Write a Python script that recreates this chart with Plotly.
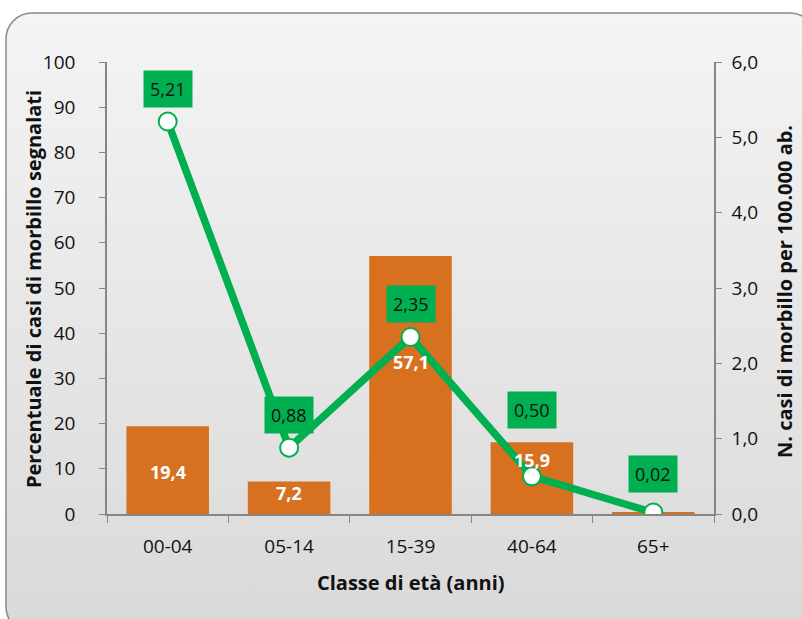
"""Morbillo: percentuale casi e incidenza per classe di età."""
import plotly.graph_objects as go
import base64

# --- data ---
classi = ["00-04", "05-14", "15-39", "40-64", "65+"]
perc_casi = [19.4, 7.2, 57.1, 15.9, 0.4]
incidenza = [5.21, 0.88, 2.35, 0.50, 0.02]

# label offsets (px) - line labels above points, bar labels from bar centre
line_label_shift = [33, 33, 33, 66, 38]
bar_label_shift = [-2, 5, 23, 18, 0]

GREEN = "#00b050"
ORANGE = "#d8711f"
AXIS = "#868686"
FONT = "Open Sans"
INK = "#111111"

# background card: rounded rect with soft vertical gradient
svg = """<svg xmlns='http://www.w3.org/2000/svg' width='800' height='612' viewBox='0 0 800 612' preserveAspectRatio='none'>
<defs><linearGradient id='g' x1='0' y1='0' x2='0' y2='1'>
<stop offset='0' stop-color='#f4f4f4'/><stop offset='1' stop-color='#d9d9d9'/></linearGradient></defs>
<rect x='1' y='1' width='810' height='620' rx='26' ry='26' fill='url(#g)' stroke='#8a8a8a' stroke-width='1.5'/>
</svg>"""
bg_src = "data:image/svg+xml;base64," + base64.b64encode(svg.encode()).decode()

W, H = 802, 619
L, R, T, B = 107, 88, 62, 105
pw, ph = W - L - R, H - T - B


def px_x(x):
    return (x - L) / pw


def px_y(y):
    return (H - B - y) / ph


fig = go.Figure()

fig.add_trace(go.Bar(
    x=classi, y=perc_casi,
    marker=dict(color=ORANGE, line=dict(width=0)),
    width=0.68,
    showlegend=False,
))

fig.add_trace(go.Scatter(
    x=classi, y=incidenza, yaxis="y2",
    mode="lines+markers",
    line=dict(color=GREEN, width=7.5),
    marker=dict(size=18, color="white", line=dict(color=GREEN, width=2)),
    showlegend=False,
))

# bar value labels (white, bold), skipped where the bar is too thin
for c, v, s in zip(classi, perc_casi, bar_label_shift):
    if v < 2:
        continue
    fig.add_annotation(
        x=c, y=v / 2, yref="y", text=f"{v:.1f}".replace(".", ","),
        showarrow=False, yshift=s, yanchor="middle",
        font=dict(family=FONT, size=18, color="white", weight="bold"),
    )

# line value labels in green boxes
for c, v, s in zip(classi, incidenza, line_label_shift):
    fig.add_annotation(
        x=c, y=v, yref="y2", text=f"{v:.2f}".replace(".", ","),
        showarrow=False, yshift=s, yanchor="middle",
        bgcolor=GREEN, borderpad=6,
        font=dict(family=FONT, size=18, color=INK),
    )

title_font = dict(family=FONT, size=20, color=INK, weight="bold")
fig.add_annotation(x=px_x(33), y=px_y(289), xref="paper", yref="paper", textangle=-90,
                   xanchor="center", yanchor="middle",
                   text="Percentuale di casi di morbillo segnalati", showarrow=False,
                   font=title_font)
fig.add_annotation(x=px_x(784), y=px_y(292), xref="paper", yref="paper", textangle=-90,
                   xanchor="center", yanchor="middle",
                   text="N. casi di morbillo per 100.000 ab.", showarrow=False,
                   font=title_font)
fig.add_annotation(x=0.5, y=px_y(582), xref="paper", yref="paper",
                   xanchor="center", yanchor="middle",
                   text="Classe di età (anni)", showarrow=False, font=title_font)

fig.add_layout_image(
    source=bg_src, xref="paper", yref="paper",
    x=px_x(5), y=px_y(12),
    sizex=800 / pw, sizey=612 / ph,
    xanchor="left", yanchor="top", sizing="stretch", layer="below",
)

tick_font = dict(family=FONT, size=19, color=INK)

fig.update_layout(
    width=W, height=H,
    margin=dict(l=L, r=R, t=T, b=B),
    paper_bgcolor="white", plot_bgcolor="rgba(0,0,0,0)",
    separators=",.",
    xaxis=dict(
        type="category", automargin=False,
        showline=True, linecolor=AXIS, linewidth=1.5,
        ticks="outside", tickson="boundaries", ticklen=7, tickcolor=AXIS,
        ticklabelstandoff=14,
        tickfont=tick_font,
    ),
    yaxis=dict(
        range=[0, 100], dtick=10, showgrid=False, zeroline=False, automargin=False,
        showline=True, linecolor=AXIS, linewidth=1.5,
        ticks="outside", ticklen=6, tickcolor=AXIS,
        ticklabelstandoff=20,
        tickfont=tick_font,
    ),
    yaxis2=dict(
        range=[0, 6], dtick=1, tickformat=".1f", overlaying="y", side="right",
        showgrid=False, zeroline=False, automargin=False,
        showline=True, linecolor=AXIS, linewidth=1.5,
        ticks="outside", ticklen=6, tickcolor=AXIS,
        ticklabelstandoff=6,
        tickfont=tick_font,
    ),
)

fig.write_html("out.html", config={"displayModeBar": False},
               post_script="document.body.style.margin='0';")
